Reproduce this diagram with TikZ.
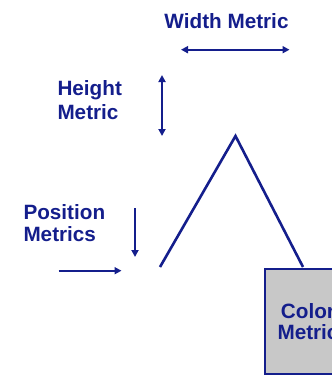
\documentclass[tikz,border=0pt]{standalone}
\usepackage{fontspec}
\setmainfont{Liberation Sans}
\usetikzlibrary{arrows.meta}
\definecolor{navy}{RGB}{20,30,140}
\definecolor{boxgray}{RGB}{200,200,200}
\begin{document}
\begin{tikzpicture}[x=1pt,y=-1pt,
  lbl/.style={font=\fontsize{20.7}{23.3}\selectfont\bfseries, text=navy, inner sep=0pt},
  metricarrow/.style={draw=navy, line width=2pt, -{Triangle[length=7pt,width=7pt]}},
  dblarrow/.style={draw=navy, line width=2pt, {Triangle[length=7pt,width=7pt]}-{Triangle[length=7pt,width=7pt]}},
  glyph/.style={draw=navy, line width=2.6pt, line join=miter},
  colorbox/.style={draw=navy, line width=2pt, fill=boxgray}]
\useasboundingbox (0,0) rectangle (332,375);
\clip (0,0) rectangle (332,375);
% labels
\node[lbl, anchor=base] (wlabel) at (226.5,28.3) {Width Metric};
\node[lbl, anchor=base west] (hlabel1) at (57.3,95.7) {Height};
\node[lbl, anchor=base west] (hlabel2) at (57.3,119) {Metric};
\node[lbl, anchor=base west] (plabel1) at (23.3,219) {Position};
\node[lbl, anchor=base west] (plabel2) at (23.3,241.7) {Metrics};
% arrows
\coordinate (w1) at (181,49.7);
\coordinate (w2) at (289.5,49.7);
\draw[dblarrow] (w1) -- (w2);
\coordinate (h1) at (162,75);
\coordinate (h2) at (162,136);
\draw[dblarrow] (h1) -- (h2);
\coordinate (pv1) at (135,208);
\coordinate (pv2) at (135,257);
\draw[metricarrow] (pv1) -- (pv2);
\coordinate (ph1) at (58.7,270.7);
\coordinate (ph2) at (121.5,270.7);
\draw[metricarrow] (ph1) -- (ph2);
% colour box
\node[colorbox, anchor=north west, minimum width=90pt, minimum height=105pt, inner sep=0pt] (cbox) at (264,268) {};
\node[lbl, align=center, font=\fontsize{20.7}{21.6}\selectfont\bfseries] (clabel) at (308,321.5) {Color\\Metric};
% glyph
\coordinate (gl) at (160,267);
\coordinate (ga) at (235.5,136);
\coordinate (gr) at (303,267);
\draw[glyph] (gl) -- (ga) -- (gr);
\end{tikzpicture}
\end{document}
